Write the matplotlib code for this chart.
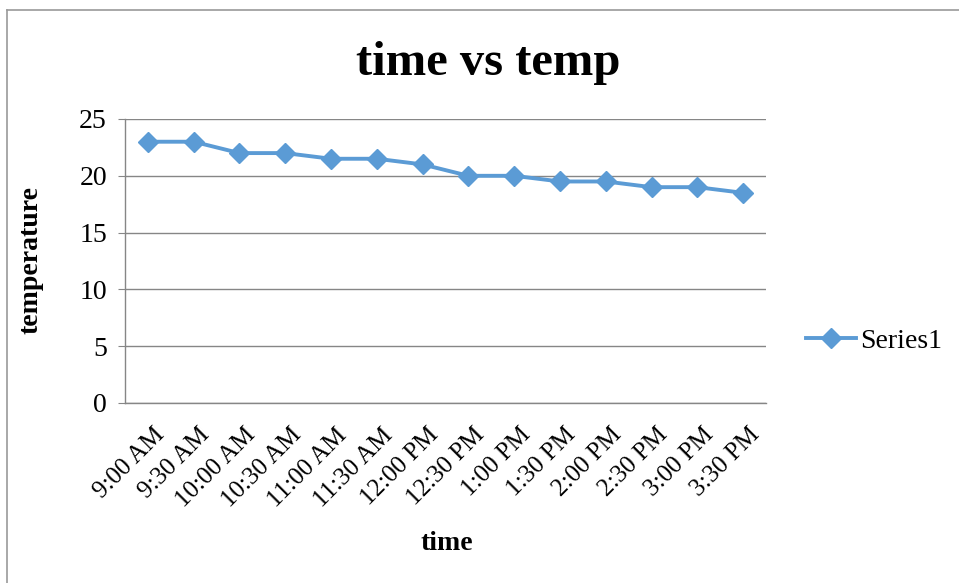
import matplotlib.pyplot as plt
from matplotlib.lines import Line2D
from matplotlib.transforms import ScaledTranslation

times = ["9:00 AM", "9:30 AM", "10:00 AM", "10:30 AM", "11:00 AM", "11:30 AM",
         "12:00 PM", "12:30 PM", "1:00 PM", "1:30 PM", "2:00 PM", "2:30 PM",
         "3:00 PM", "3:30 PM"]
temps = [23, 23, 22, 22, 21.5, 21.5, 21, 20, 20, 19.5, 19.5, 19, 19, 18.5]
yticks = [0, 5, 10, 15, 20, 25]

plt.rcParams['font.family'] = ['Liberation Serif', 'DejaVu Serif']

fig = plt.figure(figsize=(9.59, 5.83), dpi=100)
ax = fig.add_axes([125 / 959, 1 - 403 / 583, (766 - 125) / 959, (403 - 119) / 583])

x = range(len(times))
ax.plot(x, temps, color='#5B9BD5', lw=2.8, marker='D', ms=10, label='Series1')

ax.set_xlim(-0.5, len(times) - 0.5)
ax.set_ylim(0, 25)
ax.set_yticks(yticks)
ax.set_xticks(list(x))
ax.set_xticklabels(times, rotation=45, ha='right', rotation_mode='anchor', fontsize=18)
ax.tick_params(axis='y', labelsize=20, length=5, color='#868686', pad=8)
ax.tick_params(axis='x', length=0, pad=15)
# nudge the slanted labels a little to the right, like the original
shift = ScaledTranslation(5 / 100, 0, fig.dpi_scale_trans)
for lbl in ax.get_xticklabels():
    lbl.set_transform(lbl.get_transform() + shift)
ax.grid(axis='y', color='#868686', lw=1)
ax.set_axisbelow(True)
for s in ['top', 'right']:
    ax.spines[s].set_visible(False)
for s in ['left', 'bottom']:
    ax.spines[s].set_color('#868686')
    ax.spines[s].set_linewidth(1)

fig.text(488 / 959, 1 - 63 / 583, "time vs temp", fontsize=35, fontweight='bold',
         ha='center', va='center')
fig.text(447 / 959, 1 - 543 / 583, "time", fontsize=20, fontweight='bold',
         ha='center', va='center')
fig.text(31 / 959, 1 - 260 / 583, "temperature", fontsize=20, fontweight='bold',
         ha='center', va='center', rotation=90)

ax.legend(loc='center left', bbox_to_anchor=(806 / 959, 1 - 341 / 583),
          bbox_transform=fig.transFigure, frameon=False, fontsize=20,
          handlelength=1.8, handletextpad=0.15, borderaxespad=0, borderpad=0)

# chart border (left and top edges visible)
fig.add_artist(Line2D([7 / 959, 7 / 959], [0, 1 - 10 / 583], color='#9a9a9a', lw=1.2))
fig.add_artist(Line2D([7 / 959, 1], [1 - 10 / 583, 1 - 10 / 583], color='#9a9a9a', lw=1.2))

fig.savefig("out.png", dpi=100)
